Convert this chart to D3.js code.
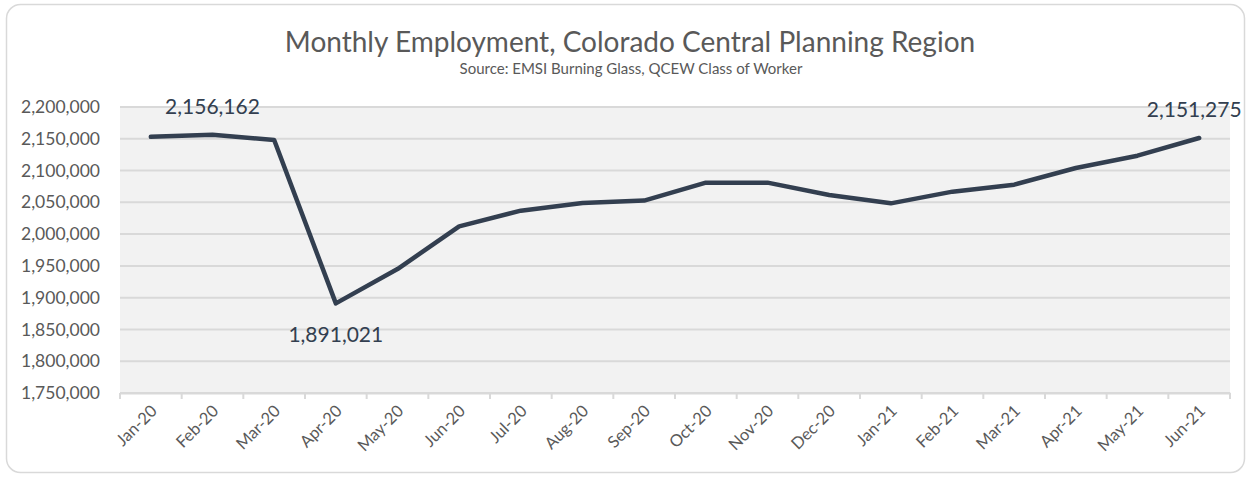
<!DOCTYPE html>
<meta charset="utf-8">
<html>
  <style>
    body, html{ margin: 0; background: #fff;}
    svg text{ font-family: Lato, "Open Sans", sans-serif; }
    .frame{ fill: #fff; stroke: #d9d9d9; stroke-width: 1.5; }
    .plot{ fill: #f2f2f2; }
    .grid line{ stroke: #d9d9d9; stroke-width: 2; }
    .axis text{ fill: #595959; }
    .axis path, .axis line{ stroke: #d9d9d9; stroke-width: 2; }
    .series{ fill: none; stroke: #333f50; stroke-width: 4.5; stroke-linejoin: round; stroke-linecap: round; }
    .lbl{ fill: #333f50; font-size: 21px; }
  </style>
  <body>
    <svg></svg>
    <script src="https://cdn.jsdelivr.net/npm/d3@7"></script>
    <script>
var months = ['Jan-20','Feb-20','Mar-20','Apr-20','May-20','Jun-20','Jul-20','Aug-20','Sep-20',
              'Oct-20','Nov-20','Dec-20','Jan-21','Feb-21','Mar-21','Apr-21','May-21','Jun-21']
var employment = [2153100, 2156162, 2148000, 1891021, 1945000, 2012100, 2036900, 2049000, 2052700,
                  2081000, 2081000, 2061600, 2048400, 2066800, 2077800, 2104000, 2123400, 2151275]
var yTicks = [1750000, 1800000, 1850000, 1900000, 1950000, 2000000, 2050000, 2100000, 2150000, 2200000]
var labelled = [1, 3, 17]

var w = 1251, h = 478
  , m = {left: 120, right: 21, top: 107, bottom: 85}
  , svg = d3.select('svg').attr('width', w).attr('height', h)
  , fmt = d3.format(',')

svg.append('rect').attr('class', 'frame')
  .attr('x', 6.5).attr('y', 4.5).attr('width', w - 13).attr('height', h - 10).attr('rx', 14)

var x = d3.scaleBand().domain(months).range([m.left, w - m.right])
  , y = d3.scaleLinear().domain([1750000, 2200000]).range([h - m.bottom, m.top])

svg.append('rect').attr('class', 'plot')
  .attr('x', m.left).attr('y', m.top)
  .attr('width', w - m.left - m.right).attr('height', h - m.top - m.bottom)

svg.append('g').attr('class', 'grid')
  .selectAll('line').data(yTicks).enter().append('line')
  .attr('x1', m.left).attr('x2', w - m.right)
  .attr('y1', function(d){ return y(d) }).attr('y2', function(d){ return y(d) })

// y axis labels only, no line
var ya = svg.append('g').attr('class', 'axis')
  .attr('transform', 'translate(100,0)')
  .call(d3.axisLeft(y).tickValues(yTicks).tickFormat(fmt).tickSize(0).tickPadding(0))
ya.select('.domain').remove()
ya.selectAll('text').style('font-size', '17.5px')

// x axis with ticks at category boundaries
var xa = svg.append('g').attr('class', 'axis')
  .attr('transform', 'translate(0,' + (h - m.bottom) + ')')
  .call(d3.axisBottom(x).tickSize(0))
xa.selectAll('.tick line').remove()
xa.selectAll('text')
  .style('font-size', '16.5px')
  .attr('text-anchor', 'end')
  .attr('x', 0).attr('y', 0).attr('dy', '0.35em')
  .attr('transform', 'translate(3,15) rotate(-45)')
xa.selectAll('line.bound').data(months.concat(['end'])).enter().append('line')
  .attr('class', 'bound')
  .attr('x1', function(d, i){ return m.left + i * x.step() })
  .attr('x2', function(d, i){ return m.left + i * x.step() })
  .attr('y1', 0).attr('y2', 6)

var line = d3.line()
  .x(function(d, i){ return x(months[i]) + x.bandwidth() / 2 })
  .y(function(d){ return y(d) })

svg.append('path').attr('class', 'series').attr('d', line(employment))

svg.selectAll('.lbl').data(labelled).enter().append('text')
  .attr('class', 'lbl')
  .attr('x', function(i){ return x(months[i]) + x.bandwidth() / 2 + (i == 17 ? -5 : 0) })
  .attr('y', function(i){ return i == 3 ? y(employment[i]) + 39 : y(employment[i]) - 21 })
  .attr('text-anchor', 'middle')
  .text(function(i){ return fmt(employment[i]) })

svg.append('text').attr('x', 630).attr('y', 52).attr('text-anchor', 'middle')
  .style('font-size', '28px').style('fill', '#595959')
  .text('Monthly Employment, Colorado Central Planning Region')
svg.append('text').attr('x', 631).attr('y', 74).attr('text-anchor', 'middle')
  .style('font-size', '15px').style('fill', '#595959')
  .text('Source: EMSI Burning Glass, QCEW Class of Worker')
    </script>
  </body>
</html>
